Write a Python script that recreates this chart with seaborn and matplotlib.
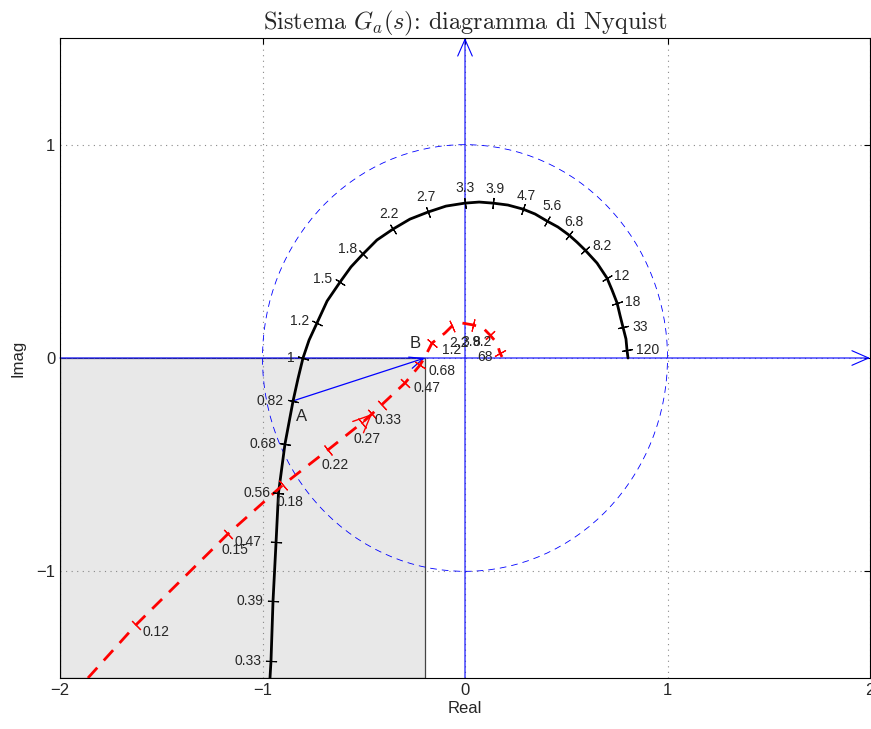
import numpy as np
import matplotlib
matplotlib.use("Agg")
import matplotlib.pyplot as plt
from matplotlib.patches import Rectangle, Circle
import seaborn as sns

# Black curve G_a(jw): traced points (re, im)
ga_re = [-0.963, -0.958, -0.948, -0.933, -0.921, -0.889, -0.849, -0.825, -0.800, -0.770,
         -0.731, -0.681, -0.617, -0.563, -0.504, -0.435, -0.356, -0.272, -0.183, -0.094,
         0.0, 0.07, 0.138, 0.212, 0.286, 0.346, 0.405, 0.459, 0.514, 0.553, 0.593,
         0.652, 0.701, 0.726, 0.751, 0.765, 0.780, 0.795, 0.800, 0.805]
ga_im = [-1.5, -1.419, -1.138, -0.862, -0.632, -0.403, -0.201, -0.098, 0.0, 0.084,
         0.164, 0.267, 0.356, 0.427, 0.487, 0.553, 0.604, 0.651, 0.684, 0.712,
         0.726, 0.731, 0.726, 0.717, 0.698, 0.675, 0.642, 0.614, 0.576, 0.543, 0.506,
         0.445, 0.375, 0.319, 0.258, 0.202, 0.145, 0.089, 0.037, 0.0]
# labelled frequencies on the black curve
ga_w = ["0.33", "0.39", "0.47", "0.56", "0.68", "0.82", "1", "1.2", "1.5", "1.8", "2.2",
        "2.7", "3.3", "3.9", "4.7", "5.6", "6.8", "8.2", "12", "18", "33", "120"]
ga_tick_re = [-0.958, -0.948, -0.933, -0.921, -0.889, -0.849, -0.800, -0.731, -0.617, -0.504,
              -0.356, -0.183, 0.0, 0.138, 0.286, 0.405, 0.514, 0.593, 0.701, 0.751, 0.780, 0.800]
ga_tick_im = [-1.419, -1.138, -0.862, -0.632, -0.403, -0.201, 0.0, 0.164, 0.356, 0.487,
              0.604, 0.684, 0.726, 0.726, 0.698, 0.642, 0.576, 0.506, 0.375, 0.258, 0.145, 0.037]
ga_dx = [-23, -23, -28, -21, -22, -23, -12, -17, -17, -15, -4, -2, 0, 2, 3, 5, 5, 17, 15, 16, 17, 21]
ga_dy = [0, 0, 0, 0, 0, 0, 0, 2, 3, 5, 15, 15, 15, 14, 13, 15, 13, 4, 2, 1, 0, 0]

# Red dashed curve: traced points
rd_re = [-1.862, -1.625, -1.170, -0.899, -0.677, -0.509, -0.459, -0.410, -0.296, -0.222,
         -0.198, -0.163, -0.099, -0.064, -0.015, 0.040, 0.089, 0.123, 0.158, 0.173, 0.183]
rd_im = [-1.5, -1.251, -0.824, -0.595, -0.431, -0.304, -0.262, -0.218, -0.117, -0.033,
         0.005, 0.070, 0.117, 0.150, 0.164, 0.155, 0.141, 0.108, 0.070, 0.023, 0.005]
rd_w = ["0.12", "0.15", "0.18", "0.22", "0.27", "0.33", "", "0.47", "0.68", "1.2",
        "2.2", "3.9", "8.2", "68"]
rd_tick_re = [-1.625, -1.170, -0.899, -0.677, -0.509, -0.459, -0.410, -0.296, -0.222,
              -0.163, -0.064, 0.040, 0.123, 0.173]
rd_tick_im = [-1.251, -0.824, -0.595, -0.431, -0.304, -0.262, -0.218, -0.117, -0.033,
              0.070, 0.150, 0.155, 0.108, 0.023]
rd_dx = [20, 7, 7, 7, 5, 16, 0, 22, 22, 20, 7, -2, -8, -15]
rd_dy = [-7, -16, -17, -15, -16, -6, 0, -5, -6, -7, -17, -17, -7, -4]

point_a = (-0.849, -0.201)
point_b = (-0.198, 0.0)

sns.set_style("white")
plt.rcParams['font.family'] = ['Liberation Sans', 'DejaVu Sans']
plt.rcParams['mathtext.fontset'] = 'cm'

fig = plt.figure(figsize=(8.71, 7.29), dpi=100)
ax = fig.add_axes([60 / 871, 51 / 729, 810 / 871, 640 / 729])
ax.set_xlim(-2, 2)
ax.set_ylim(-1.5, 1.5)

# shaded region
ax.add_patch(Rectangle((-2, -1.5), point_b[0] + 2, 1.5, facecolor='#e8e8e8',
                       edgecolor='#444444', lw=0.9, zorder=0.3))

# grid
ax.set_xticks([-2, -1, 0, 1, 2])
ax.set_yticks([-1, 0, 1])
ax.set_axisbelow(True)
ax.grid(True, linestyle=(0, (1, 4)), color='#888888', lw=0.8)

# unit circle
ax.add_patch(Circle((0, 0), 1, fill=False, edgecolor='blue', lw=0.6,
                    linestyle=(0, (8, 6)), zorder=1))

# axes with arrows
arr = '->,head_length=0.8,head_width=0.35'
ax.annotate('', xy=(2, 0), xytext=(-2, 0),
            arrowprops=dict(arrowstyle=arr, color='blue', lw=0.8, mutation_scale=15,
                            shrinkA=0, shrinkB=0), zorder=2)
ax.annotate('', xy=(0, 1.5), xytext=(0, -1.5),
            arrowprops=dict(arrowstyle=arr, color='blue', lw=0.8, mutation_scale=15,
                            shrinkA=0, shrinkB=0), zorder=2)
# A -> B vector
ax.annotate('', xy=point_b, xytext=point_a,
            arrowprops=dict(arrowstyle='->,head_length=0.7,head_width=0.3', color='blue',
                            lw=0.9, mutation_scale=14, shrinkA=0, shrinkB=0), zorder=3)

# curves
sns.lineplot(x=ga_re, y=ga_im, sort=False, color='black', lw=2, ax=ax, zorder=4)
sns.lineplot(x=rd_re, y=rd_im, sort=False, color='red', lw=2, ax=ax, zorder=4,
             linestyle=(0, (5, 3.5)))

sx, sy = 202.5, 213.3


def tick_marks(tre, tim, color, size):
    tre = np.asarray(tre)
    tim = np.asarray(tim)
    gx = np.gradient(tre * sx)
    gy = np.gradient(tim * sy)
    ang = np.degrees(np.arctan2(gy, gx))
    for x, y, a in zip(tre, tim, ang):
        ax.plot([x], [y], marker=(2, 2, a), ms=size, color=color, mew=0.8, zorder=5)
    return ang


tick_marks(ga_tick_re, ga_tick_im, 'black', 8)
tick_marks(rd_tick_re, rd_tick_im, 'red', 9)

# arrow on the red curve
ax.annotate('', xy=(rd_tick_re[5], rd_tick_im[5]),
            xytext=(rd_tick_re[5] - 0.05, rd_tick_im[5] - 0.045),
            arrowprops=dict(arrowstyle='->,head_length=0.9,head_width=0.4', color='red',
                            lw=1, mutation_scale=14, shrinkA=0, shrinkB=0), zorder=5)

for t, x, y, dx, dy in zip(ga_w, ga_tick_re, ga_tick_im, ga_dx, ga_dy):
    ax.annotate(t, xy=(x, y), xytext=(dx, dy), textcoords='offset pixels',
                ha='center', va='center', fontsize=10, zorder=6)
for t, x, y, dx, dy in zip(rd_w, rd_tick_re, rd_tick_im, rd_dx, rd_dy):
    if t:
        ax.annotate(t, xy=(x, y), xytext=(dx, dy), textcoords='offset pixels',
                    ha='center', va='center', fontsize=10, zorder=6)

ax.text(-0.805, -0.276, 'A', fontsize=12, ha='center', va='center')
ax.text(-0.247, 0.07, 'B', fontsize=12, ha='center', va='center')

for s in ax.spines.values():
    s.set_color('black')
    s.set_linewidth(0.8)
ax.tick_params(direction='in', length=4, top=True, right=True, labelsize=12,
               color='black')
ax.set_xlabel('Real', fontsize=12, labelpad=2)
ax.set_ylabel('Imag', fontsize=12, labelpad=8)
ax.set_title('Sistema $G_a(s)$: diagramma di Nyquist', fontfamily='cmr10',
             fontsize=17.5, pad=6)

fig.savefig('out.png', dpi=100)
